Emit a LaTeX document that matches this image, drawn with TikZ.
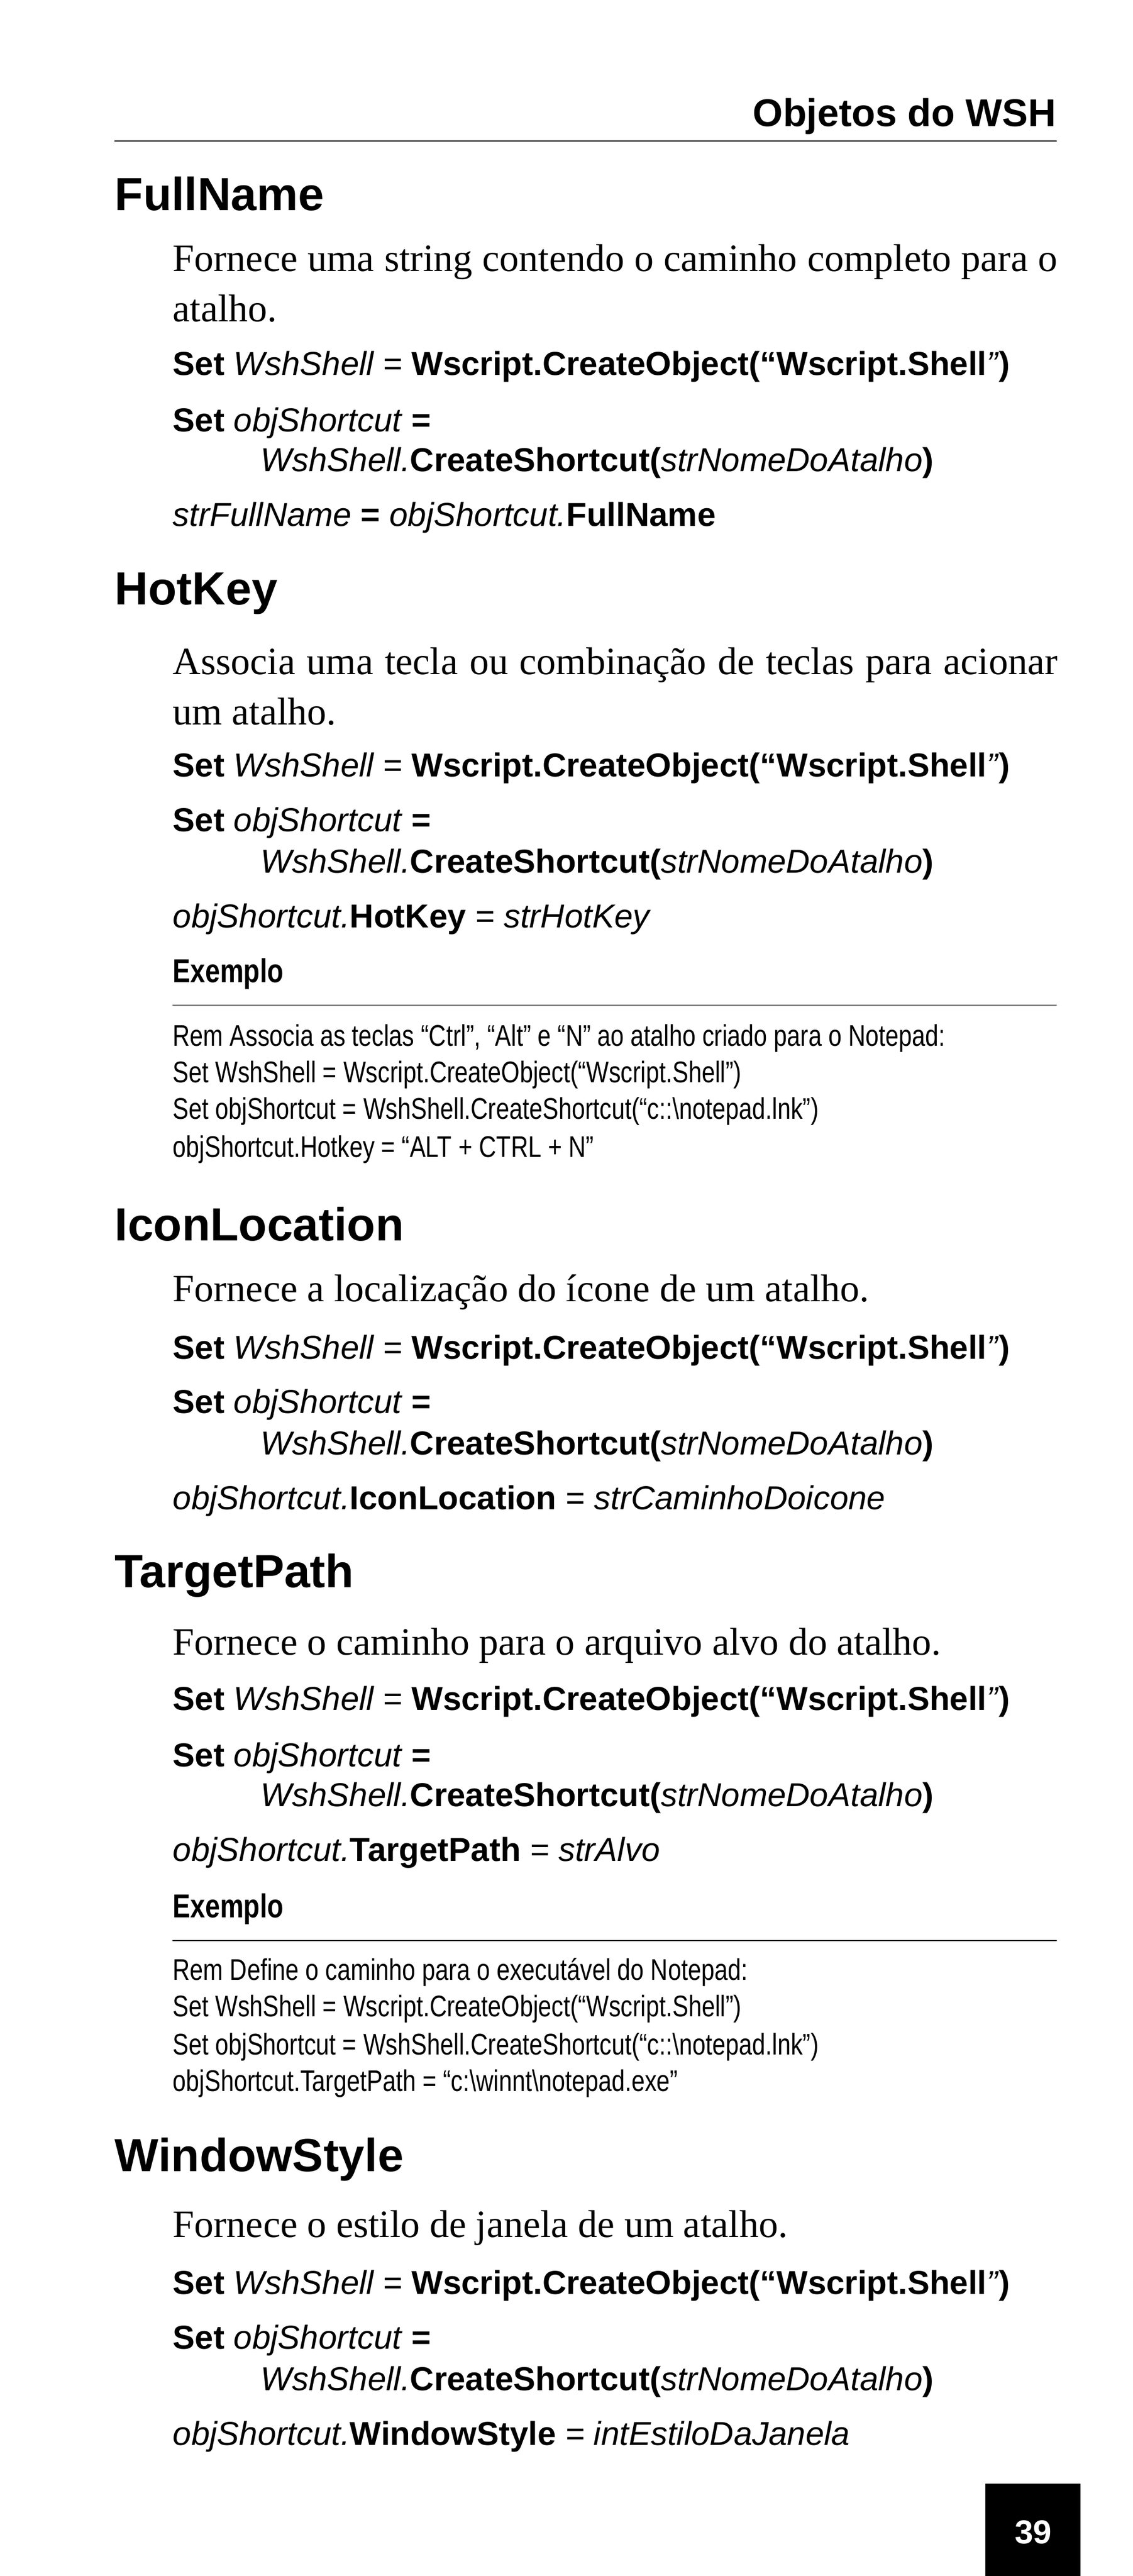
\documentclass[tikz,border=0pt]{standalone}
\usepackage{fontspec}
\setmainfont{Liberation Serif}
\setsansfont{Liberation Sans}
\newfontfamily\cond[FakeStretch=0.8]{Liberation Sans}
\begin{document}
\begin{tikzpicture}[x=0.75pt,y=-0.75pt,
  head/.style={anchor=west,inner sep=0,font=\sffamily\bfseries\fontsize{21}{25}\selectfont},
  body/.style={anchor=west,inner sep=0,font=\fontsize{17.5}{20}\selectfont},
  code/.style={anchor=west,inner sep=0,font=\sffamily\fontsize{15}{18}\selectfont},
  ex/.style={anchor=west,inner sep=0,font=\cond\bfseries\fontsize{15}{17}\selectfont},
  exc/.style={anchor=west,inner sep=0,font=\cond\fontsize{13.5}{16}\selectfont},
  rulel/.style={line width=0.6pt}]
\newcommand\Bd[1]{\textbf{#1}}
\newcommand\It[1]{\textit{#1}}
\useasboundingbox (0,0) rectangle (683,1553);
\node[anchor=east,inner sep=0,font=\sffamily\bfseries\fontsize{17.5}{20}\selectfont] (hdr) at (637,70) {Objetos do WSH};
\draw[rulel] (69,85) coordinate (r0a) -- (637,85) coordinate (r0b);
% FullName
\node[head] (h1) at (69,117) {FullName};
\node[body] (t1a) at (104,158) {\makebox[400pt][s]{Fornece uma string contendo o caminho completo para o}};
\node[body] (t1b) at (104,186) {atalho.};
\node[code] (c1a) at (104,221) {\Bd{Set} \It{WshShell =} \Bd{Wscript.CreateObject(“Wscript.Shell}\It{”}\Bd{)}};
\node[code] (c1b) at (104,255) {\Bd{Set} \It{objShortcut} \Bd{=}};
\node[code] (c1c) at (157,279) {\It{WshShell.}\Bd{CreateShortcut(}\It{strNomeDoAtalho}\Bd{)}};
\node[code] (c1d) at (104,312) {\It{strFullName} \Bd{=} \It{objShortcut.}\Bd{FullName}};
% HotKey
\node[head] (h2) at (69,358) {HotKey};
\node[body] (t2a) at (104,401) {\makebox[400pt][s]{Associa uma tecla ou combinação de teclas para acionar}};
\node[body] (t2b) at (104,429) {um atalho.};
\node[code] (c2a) at (104,463) {\Bd{Set} \It{WshShell =} \Bd{Wscript.CreateObject(“Wscript.Shell}\It{”}\Bd{)}};
\node[code] (c2b) at (104,496) {\Bd{Set} \It{objShortcut} \Bd{=}};
\node[code] (c2c) at (157,521) {\It{WshShell.}\Bd{CreateShortcut(}\It{strNomeDoAtalho}\Bd{)}};
\node[code] (c2d) at (104,554) {\It{objShortcut.}\Bd{HotKey} \It{= strHotKey}};
\node[ex] (e2) at (104,587) {Exemplo};
\draw[line width=0.4pt] (104,606) coordinate (r2a) -- (637,606) coordinate (r2b);
\node[exc] (x2a) at (104,626) {Rem Associa as teclas “Ctrl”, “Alt” e “N” ao atalho criado para o Notepad:};
\node[exc] (x2b) at (104,648) {Set WshShell = Wscript.CreateObject(“Wscript.Shell”)};
\node[exc] (x2c) at (104,670) {Set objShortcut = WshShell.CreateShortcut(“c::\textbackslash notepad.lnk”)};
\node[exc] (x2d) at (104,693) {objShortcut.Hotkey = “ALT + CTRL + N”};
% IconLocation
\node[head] (h3) at (69,738) {IconLocation};
\node[body] (t3a) at (104,779) {Fornece a localização do ícone de um atalho.};
\node[code] (c3a) at (104,814) {\Bd{Set} \It{WshShell =} \Bd{Wscript.CreateObject(“Wscript.Shell}\It{”}\Bd{)}};
\node[code] (c3b) at (104,847) {\Bd{Set} \It{objShortcut} \Bd{=}};
\node[code] (c3c) at (157,872) {\It{WshShell.}\Bd{CreateShortcut(}\It{strNomeDoAtalho}\Bd{)}};
\node[code] (c3d) at (104,905) {\It{objShortcut.}\Bd{IconLocation} \It{= strCaminhoDoicone}};
% TargetPath
\node[head] (h4) at (69,950) {TargetPath};
\node[body] (t4a) at (104,992) {Fornece o caminho para o arquivo alvo do atalho.};
\node[code] (c4a) at (104,1026) {\Bd{Set} \It{WshShell =} \Bd{Wscript.CreateObject(“Wscript.Shell}\It{”}\Bd{)}};
\node[code] (c4b) at (104,1060) {\Bd{Set} \It{objShortcut} \Bd{=}};
\node[code] (c4c) at (157,1084) {\It{WshShell.}\Bd{CreateShortcut(}\It{strNomeDoAtalho}\Bd{)}};
\node[code] (c4d) at (104,1117) {\It{objShortcut.}\Bd{TargetPath} \It{= strAlvo}};
\node[ex] (e4) at (104,1151) {Exemplo};
\draw[line width=0.4pt] (104,1170) coordinate (r4a) -- (637,1170) coordinate (r4b);
\node[exc] (x4a) at (104,1189) {Rem Define o caminho para o executável do Notepad:};
\node[exc] (x4b) at (104,1211) {Set WshShell = Wscript.CreateObject(“Wscript.Shell”)};
\node[exc] (x4c) at (104,1234) {Set objShortcut = WshShell.CreateShortcut(“c::\textbackslash notepad.lnk”)};
\node[exc] (x4d) at (104,1256) {objShortcut.TargetPath = “c:\textbackslash winnt\textbackslash notepad.exe”};
% WindowStyle
\node[head] (h5) at (69,1302) {WindowStyle};
\node[body] (t5a) at (104,1343) {Fornece o estilo de janela de um atalho.};
\node[code] (c5a) at (104,1378) {\Bd{Set} \It{WshShell =} \Bd{Wscript.CreateObject(“Wscript.Shell}\It{”}\Bd{)}};
\node[code] (c5b) at (104,1411) {\Bd{Set} \It{objShortcut} \Bd{=}};
\node[code] (c5c) at (157,1436) {\It{WshShell.}\Bd{CreateShortcut(}\It{strNomeDoAtalho}\Bd{)}};
\node[code] (c5d) at (104,1469) {\It{objShortcut.}\Bd{WindowStyle} \It{= intEstiloDaJanela}};
% page number
\node[fill=black,text=white,minimum width=43,minimum height=44,inner sep=0,anchor=north west,font=\sffamily\bfseries\fontsize{15}{18}\selectfont] (pg) at (594,1497) {39};
\end{tikzpicture}
\end{document}
